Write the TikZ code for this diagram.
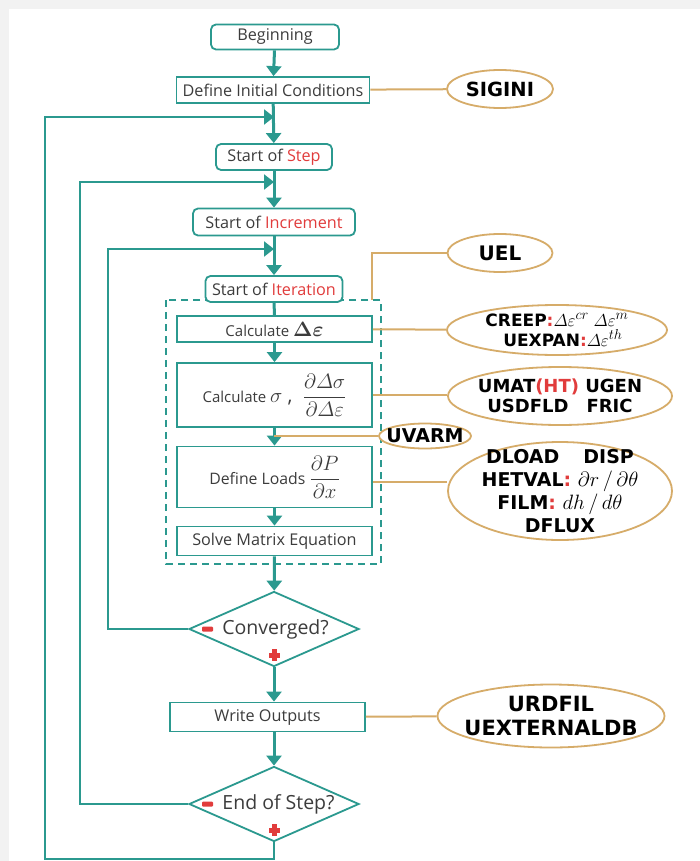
\documentclass[tikz,border=0pt]{standalone}
\usepackage[no-math]{fontspec}
\usepackage{amsmath}
\setmainfont{Open Sans}
\newfontfamily\ellfont{DejaVu Sans}
\usetikzlibrary{shapes.geometric,arrows.meta,calc}
\definecolor{tealc}{RGB}{43,153,143}
\definecolor{tanc}{RGB}{214,172,105}
\definecolor{txt}{RGB}{60,60,60}
\definecolor{redc}{RGB}{225,60,60}
\definecolor{bgray}{RGB}{242,242,242}
\newcommand{\fs}[1]{\fontsize{#1}{#1}\selectfont}
\newcommand{\fsb}[2]{\fontsize{#1}{#2}\selectfont}
\tikzset{
  base/.style={draw=tealc, line width=1.8pt, fill=white, text=txt, inner sep=0pt, align=center},
  rbox/.style={base, rounded corners=5pt},
  sbox/.style={base},
  dia/.style={diamond, draw=tealc, line width=1.8pt, fill=white, inner xsep=-40pt, inner ysep=-10pt, text=txt},
  ell/.style={ellipse, draw=tanc, line width=1.8pt, fill=white, inner xsep=-40pt, inner ysep=-20pt, align=center, text=black, font=\ellfont\bfseries\fs{19}},
  flow/.style={draw=tealc, line width=3pt, -{Triangle[width=15pt,length=10pt]}},
  plainflow/.style={draw=tealc, line width=3pt},
  link/.style={draw=tanc, line width=2pt},
  region/.style={draw=tealc, line width=1.8pt, dash pattern=on 7pt off 5pt},
}
\begin{document}
\begin{tikzpicture}[x=1pt,y=-1pt]
\fill[bgray] (0,0) rectangle (700,861);
\fill[white] (9,9) rectangle (700,861);
\useasboundingbox (0,0) rectangle (700,861);

% dashed region
\draw[region] (166,300) rectangle (381,564);

% main nodes
\node[rbox, minimum width=128, minimum height=25, font=\fs{16.2}] (begin) at (275,37) {Beginning};
\node[sbox, minimum width=193, minimum height=26, font=\fs{16.2}] (init) at (273,90) {Define Initial Conditions};
\node[rbox, minimum width=116, minimum height=26, font=\fs{16.2}] (step) at (274,157) {Start of {\color{redc}Step}};
\node[rbox, minimum width=162, minimum height=27, font=\fs{16.2}] (incr) at (274,222) {Start of {\color{redc}Increment}};
\node[rbox, minimum width=137, minimum height=26, font=\fs{16.2}] (iter) at (274,289) {Start of {\color{redc}Iteration}};
\node[sbox, minimum width=195, minimum height=26, font=\fs{15}] (calceps) at (274.5,329) {Calculate {\fs{20}$\boldsymbol{\Delta\varepsilon}$}};
\node[sbox, minimum width=195, minimum height=64, font=\fs{15}] (calcsig) at (274.5,395) {Calculate\ {\fs{20}$\sigma$ ,\ \ $\dfrac{\partial\varDelta\sigma}{\partial\varDelta\varepsilon}$}};
\node[sbox, minimum width=195, minimum height=61, font=\fs{15.8}] (loads) at (274.5,477) {Define Loads {\fs{20}$\dfrac{\partial P}{\partial x}$}};
\node[sbox, minimum width=195, minimum height=29, font=\fs{16.2}] (solve) at (274.5,541) {Solve Matrix Equation};
\node[dia, minimum width=170, minimum height=75, font=\fs{19.5}] (conv) at (274,629) {\hspace*{3pt}Converged?};
\node[sbox, minimum width=195, minimum height=29, font=\fs{16.2}] (write) at (267.5,717) {Write Outputs};
\node[dia, minimum width=170, minimum height=75, font=\fs{19.5}] (endstep) at (274,804) {\hspace*{9pt}End of Step?};

% red signs on the decisions
\fill[redc, rounded corners=1pt] (202,626.5) rectangle (213,631.5);
\fill[redc] (272,649) rectangle (276.5,661);
\fill[redc] (268.5,653) rectangle (280,657.5);
\fill[redc, rounded corners=1pt] (202,801.5) rectangle (213,806.5);
\fill[redc] (272,824) rectangle (276.5,836);
\fill[redc] (268.5,828) rectangle (280,832.5);

% ellipses
\node[ell, minimum width=106, minimum height=38, font=\ellfont\bfseries\fs{19.5}] (sigini) at (500,89) {SIGINI};
\node[ell, minimum width=105, minimum height=38, font=\ellfont\bfseries\fs{20}] (uel) at (500,253) {UEL};
\node[ell, minimum width=220, minimum height=50, font={\ellfont\bfseries\fsb{17}{20}}] (creep) at (557,330)
  {CREEP{\color{redc}:}{\fs{19}$\varDelta\varepsilon^{cr}\;\varDelta\varepsilon^{m}$}\hspace{4pt}\\ \ \ UEXPAN{\color{redc}:}{\fs{19}$\varDelta\varepsilon^{th}$}\hspace{8pt}};
\node[ell, minimum width=224, minimum height=58, font={\ellfont\bfseries\fsb{18}{20}}] (umat) at (560,396)
  {UMAT{\color{redc}(HT)} UGEN\\USDFLD\quad FRIC};
\node[ell, minimum width=92, minimum height=25] (uvarm) at (425,436) {UVARM};
\node[ell, minimum width=224, minimum height=98, font={\ellfont\bfseries\fsb{19}{23}}] (dload) at (560,491)
  {DLOAD\hspace{24pt}DISP\\HETVAL{\color{redc}:} {\fs{22}$\partial r\,/\,\partial\theta$}\\FILM{\color{redc}:} {\fs{22}$dh\,/\,d\theta$}\\DFLUX};
\node[ell, minimum width=227, minimum height=63, font={\ellfont\bfseries\fsb{21}{24}}] (urdfil) at (551,716) {URDFIL\\UEXTERNALDB};

% junction coordinates
\coordinate (j1) at (274,117);
\coordinate (j2) at (274,182);
\coordinate (j3) at (274,249);
\coordinate (c1) at (45,859);
\coordinate (c2) at (80,804);
\coordinate (c3) at (108,629);
\coordinate (ju) at (274,436);
\coordinate (dtop) at (372,300);

% main flow
\draw[flow] (begin) -- (init);
\draw[flow] (init) -- (step);
\draw[flow] (step) -- (incr);
\draw[flow] (incr) -- (iter);
\draw[plainflow] (iter) -- (calceps);
\draw[flow] (calceps) -- (calcsig);
\draw[flow] (calcsig) -- (loads);
\draw[flow] (loads) -- (solve);
\draw[flow] (solve) -- (conv);
\draw[flow] (conv.south) -- (conv.south |- write.north);
\draw[flow] (write.south -| endstep.north) -- (endstep.north);

% loops
\draw[flow, line width=2.2pt] (endstep.south) |- (c1) |- (j1);
\draw[flow, line width=2.2pt] (endstep.west) -- (c2) |- (j2);
\draw[flow, line width=2.2pt] (conv.west) -- (c3) |- (j3);

% links to user subroutines
\draw[link] (init) -- (sigini);
\draw[link] (uel.west) -| (dtop);
\draw[link] (calceps) -- (creep);
\draw[link] (calcsig.east) -- (umat.west |- calcsig.east);
\draw[link] (ju) -- (uvarm);
\draw[link] (loads.east |- 0,482) -- (dload.west |- 0,482);
\draw[link] (write) -- (urdfil);
\end{tikzpicture}
\end{document}
